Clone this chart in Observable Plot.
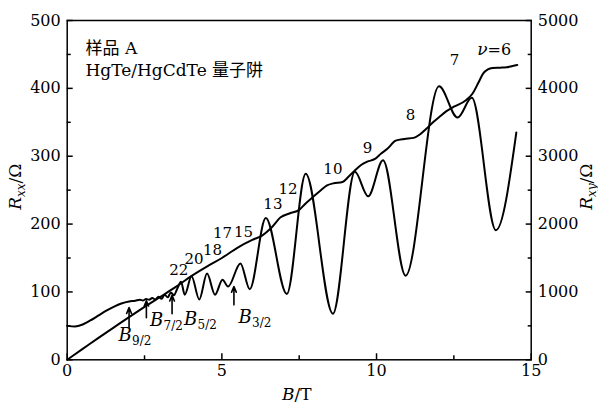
<!DOCTYPE html>
<html>
<head>
<meta charset="utf-8">
<script src="https://cdn.jsdelivr.net/npm/d3@7"></script>
<script src="https://cdn.jsdelivr.net/npm/@observablehq/plot@0.6"></script>
<style>
  body { margin: 0; background: #fff; }
  svg { display: block; }
</style>
</head>
<body>
<div id="chart"></div>
<script>
// Longitudinal resistance R_xx (Ω) versus magnetic field B (T)
const rxxB = [0, 0.25, 0.5, 0.75, 1.0, 1.25, 1.5, 1.75, 2.0, 2.2, 2.35, 2.45, 2.55, 2.65, 2.75,
  2.85, 2.95, 3.05, 3.15, 3.25, 3.35, 3.45, 3.55, 3.68, 3.8, 4.02, 4.27, 4.52, 4.78, 5.02,
  5.2, 5.6, 5.9, 6.42, 7.1, 7.71, 8.59, 9.3, 9.73, 10.21, 10.94, 12.02, 12.62, 13.08, 13.86, 14.52];
const rxxOhm = [50, 49, 52, 58, 65, 72, 78, 83, 86, 87, 88.5, 87.5, 89.5, 88.5, 91,
  89, 93, 90, 96, 92, 99, 95, 104, 115, 96, 123, 89, 127, 96, 118,
  108, 142, 104, 209, 97, 274, 68, 277, 241, 294, 124, 403, 357, 386, 191, 335];

// Hall resistance R_xy (Ω) versus magnetic field B (T)
const rxyB = [0, 0.5, 1.0, 1.5, 2.0, 2.5, 3.0, 3.5, 4.0, 4.5, 5.0, 5.5, 6.0, 6.3, 6.6, 6.9,
  7.2, 7.5, 7.7, 8.0, 8.2, 8.4, 8.6, 8.9, 9.1, 9.3, 9.5, 9.7, 9.95, 10.15, 10.35, 10.62,
  10.9, 11.2, 11.4, 11.6, 11.8, 12.02, 12.25, 12.5, 12.88, 13.1, 13.3, 13.45, 13.6, 13.75,
  14.0, 14.2, 14.4, 14.55];
const rxyOhm = [0, 160, 320, 475, 630, 780, 925, 1070, 1230, 1370, 1500, 1650, 1770, 1830, 1945, 2100,
  2160, 2210, 2300, 2420, 2500, 2570, 2600, 2620, 2700, 2790, 2870, 2920, 2960, 3040, 3110, 3230,
  3255, 3270, 3320, 3400, 3490, 3575, 3660, 3730, 3820, 3920, 4090, 4220, 4280, 4300,
  4305, 4310, 4330, 4345];

// Filling-factor labels (placed in B / R_xx coordinates)
const nuText = ["22", "20", "18", "17", "15", "13", "12", "10", "9", "8", "7"];
const nuAtB = [3.61, 4.10, 4.70, 5.02, 5.70, 6.65, 7.14, 8.59, 9.71, 11.1, 12.52];
const nuAtR = [131.6, 148.5, 161, 186, 187.6, 228.8, 251.7, 281, 311.3, 360, 441.8];
const nuLast = "6";
const nuLastB = 13.59, nuLastR = 457;

// Field markers B_{n/2}
const markName = ["9/2", "7/2", "5/2", "3/2"];
const markB = [2.0, 2.56, 3.39, 5.39];
const markTail = [48, 62, 68, 81];
const markTip = [77, 87, 95, 108];
const markLabelB = [1.87, 2.89, 3.99, 5.75];
const markLabelR = [35.8, 57.9, 60.1, 63];

// Axis ticks
const xMajor = [0, 5, 10, 15];
const xMinor = [2.5, 7.5, 12.5];
const rxxMajor = [0, 100, 200, 300, 400, 500];
const rxxMinor = [50, 150, 250, 350, 450];
const rxyMajor = [0, 1000, 2000, 3000, 4000, 5000];
const rxyMinor = [500, 1500, 2500, 3500, 4500];
const rxyPerRxx = 10; // right axis spans ten times the left axis

const rxx = rxxB.map((b, i) => ({B: b, R: rxxOhm[i]}));
const rxy = rxyB.map((b, i) => ({B: b, R: rxyOhm[i]}));
const nu = nuText.map((t, i) => ({t, B: nuAtB[i], R: nuAtR[i]}));
const marks = markName.map((n, i) => ({n, B: markB[i], tail: markTail[i], tip: markTip[i], lb: markLabelB[i], lr: markLabelR[i]}));

const W = 598, H = 406, mL = 66.7, mR = 67.3, mT = 20, mB = 46.7;
const serif = "'DejaVu Serif', 'Noto Sans CJK SC', serif";

const chart = Plot.plot({
  width: W, height: H,
  marginLeft: mL, marginRight: mR, marginTop: mT, marginBottom: mB,
  style: {fontFamily: serif, background: "white", color: "black"},
  x: {domain: [0, 15], label: null},
  y: {domain: [0, 500], label: null},
  marks: [
    Plot.axisX(xMajor, {tickSize: -6, tickPadding: 11, fontSize: 16, strokeWidth: 1.5}),
    Plot.axisX(xMinor, {tickSize: -4, tickFormat: () => "", strokeWidth: 1.5}),
    Plot.axisY(rxxMajor, {anchor: "left", tickSize: -6, tickPadding: 12.5, fontSize: 16, strokeWidth: 1.5}),
    Plot.axisY(rxxMinor, {anchor: "left", tickSize: -4, tickFormat: () => "", strokeWidth: 1.5}),
    Plot.axisY(rxyMajor.map(v => v / rxyPerRxx), {anchor: "right", tickSize: -6, tickPadding: 12.5, fontSize: 16, strokeWidth: 1.5,
      tickFormat: v => String(Math.round(v * rxyPerRxx))}),
    Plot.axisY(rxyMinor.map(v => v / rxyPerRxx), {anchor: "right", tickSize: -4, tickFormat: () => "", strokeWidth: 1.5}),
    Plot.frame({stroke: "black", strokeWidth: 1.5}),
    Plot.line(rxx, {x: "B", y: "R", curve: "monotone-x", stroke: "black", strokeWidth: 2}),
    Plot.line(rxy, {x: "B", y: d => d.R / rxyPerRxx, curve: "monotone-x", stroke: "black", strokeWidth: 2}),
    Plot.arrow(marks, {x1: "B", x2: "B", y1: "tail", y2: "tip", stroke: "black", strokeWidth: 1.6, headLength: 6, headAngle: 45}),
    Plot.text(marks, {x: "lb", y: "lr", text: () => "B", fontStyle: "italic", fontSize: 18, textAnchor: "middle", lineAnchor: "middle", fill: "black"}),
    Plot.text(marks, {x: "lb", y: "lr", text: "n", fontSize: 12, textAnchor: "start", lineAnchor: "middle", dx: 7, dy: 6, fill: "black"}),
    Plot.text(nu, {x: "B", y: "R", text: "t", fontSize: 15, textAnchor: "middle", lineAnchor: "middle", fill: "black"}),
    Plot.text([{B: nuLastB, R: nuLastR}], {x: "B", y: "R", text: () => "ν", fontStyle: "italic", fontSize: 17, textAnchor: "end", lineAnchor: "middle", fill: "black"}),
    Plot.text([{B: nuLastB, R: nuLastR}], {x: "B", y: "R", text: () => "=" + nuLast, fontSize: 16, textAnchor: "start", lineAnchor: "middle", fill: "black"}),
    Plot.text(["样品 A"], {frameAnchor: "top-left", text: d => d, dx: 18.3, dy: 21.5, fontSize: 17, lineAnchor: "top", fill: "black"}),
    Plot.text(["HgTe/HgCdTe 量子阱"], {frameAnchor: "top-left", text: d => d, dx: 18.3, dy: 43.3, fontSize: 17, lineAnchor: "top", fill: "black"})
  ]
});

// Axis titles with italic symbols and subscripts
const svg = d3.select(chart);
function axisTitle(x, y, angle, main, sub, rest) {
  const t = svg.append("text")
    .attr("transform", `translate(${x},${y}) rotate(${angle})`)
    .attr("text-anchor", "middle")
    .attr("font-family", serif)
    .attr("font-size", 17)
    .attr("fill", "black");
  t.append("tspan").attr("font-style", "italic").text(main);
  if (sub) t.append("tspan").attr("font-style", "italic").attr("font-size", 12).attr("dy", 4).text(sub);
  t.append("tspan").attr("dy", sub ? -4 : 0).text(rest);
}
const midY = (mT + (H - mB)) / 2 - 3;
axisTitle(21, midY, -90, "R", "xx", "/Ω");
axisTitle(592, midY, -90, "R", "xy", "/Ω");
axisTitle(mL + (W - mL - mR) / 2 - 2, 399.5, 0, "B", null, "/T");

document.getElementById("chart").appendChild(chart);
</script>
</body>
</html>
